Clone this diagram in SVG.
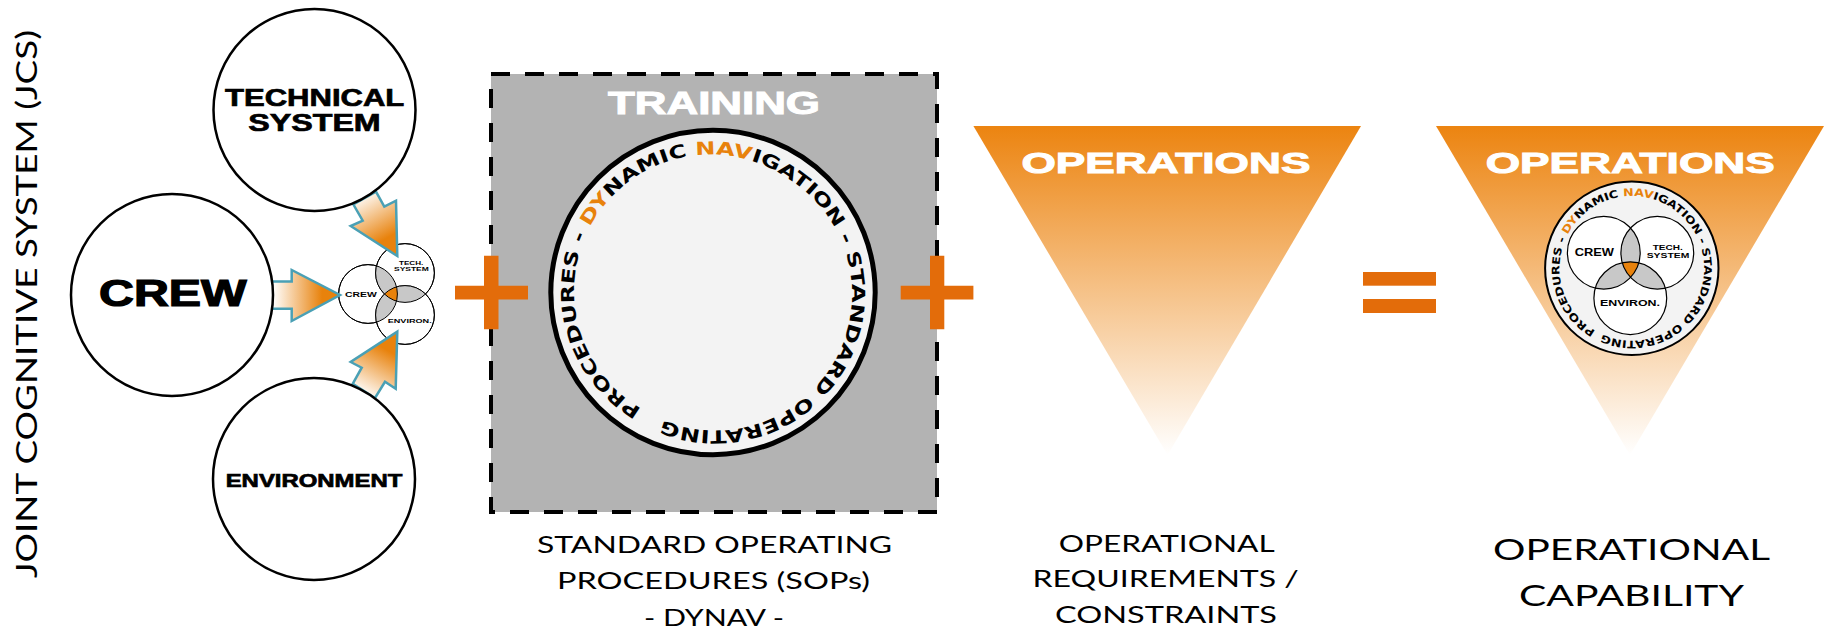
<svg xmlns="http://www.w3.org/2000/svg" width="1835" height="633" viewBox="0 0 1835 633">
<style>
.x{font-family:"Liberation Sans",Arial,sans-serif;font-weight:700;fill:#000;stroke:#000;stroke-width:.7}
.x0{font-family:"Liberation Sans",Arial,sans-serif;font-weight:700;fill:#000}
.w{font-family:"Liberation Sans",Arial,sans-serif;font-weight:700;fill:#fff;stroke:#fff;stroke-width:1}
.h{font-family:"Lato","Open Sans",sans-serif;font-weight:400;fill:#000}
.r{font-family:"DejaVu Sans",sans-serif;font-weight:700;fill:#000}
.o{fill:#e8820c}
.big{fill:#fff;stroke:#000;stroke-width:2.5}
.sm{fill:#fff;stroke:#000;stroke-width:1}
.ln{fill:none;stroke:#000;stroke-width:1}
.ln2{fill:none;stroke:#000;stroke-width:1.2}
.gy{fill:#c8c8c8}
.or{fill:#e36c0a}
.ar{stroke:#4aa0b5;stroke-width:2.5;stroke-linejoin:miter}
</style>
<defs>
<linearGradient id="gc" gradientUnits="userSpaceOnUse" x1="273" y1="295" x2="322" y2="295"><stop offset="0" stop-color="#fff"/><stop offset="1" stop-color="#e8820c"/></linearGradient>
<linearGradient id="gt" gradientUnits="userSpaceOnUse" x1="362" y1="194" x2="387" y2="238"><stop offset="0" stop-color="#fff"/><stop offset="1" stop-color="#e8820c"/></linearGradient>
<linearGradient id="ge" gradientUnits="userSpaceOnUse" x1="362" y1="394" x2="387" y2="350"><stop offset="0" stop-color="#fff"/><stop offset="1" stop-color="#e8820c"/></linearGradient>
<linearGradient id="gv" x1="0" y1="0" x2="0" y2="1"><stop offset="0" stop-color="#ec8410"/><stop offset="1" stop-color="#fff"/></linearGradient>
<clipPath id="s1"><circle cx="368" cy="294" r="29.4"/></clipPath>
<clipPath id="s2"><circle cx="405" cy="273" r="29.4"/></clipPath>
<clipPath id="s3"><circle cx="405" cy="315" r="29.4"/></clipPath>
<clipPath id="m1"><circle cx="1603.8" cy="252.7" r="36.4"/></clipPath>
<clipPath id="m2"><circle cx="1657.3" cy="252.7" r="36.4"/></clipPath>
<clipPath id="m3"><circle cx="1630.3" cy="298.2" r="36.4"/></clipPath>
<path id="ring1" d="M641.6 408.8A136.5 136.5 0 1 1 784.4 176.2A136.5 136.5 0 1 1 641.6 408.8"/>
<path id="ring2" d="M1595.4 330.8A72.3 72.3 0 1 1 1668.2 205.8A72.3 72.3 0 1 1 1595.4 330.8"/>
</defs>
<rect width="1835" height="633" fill="#fff"/>

<text id="jcs-label" class="h" transform="translate(37 578) rotate(-90)" font-size="28" textLength="548" lengthAdjust="spacingAndGlyphs">JOINT COGNITIVE SYSTEM (JCS)</text>

<g id="venn-small">
<circle class="sm" cx="368" cy="294" r="29.4"/><circle class="sm" cx="405" cy="273" r="29.4"/><circle class="sm" cx="405" cy="315" r="29.4"/>
<g clip-path="url(#s1)"><circle class="gy" cx="405" cy="273" r="29.4"/><circle class="gy" cx="405" cy="315" r="29.4"/></g>
<g clip-path="url(#s2)"><circle class="gy" cx="405" cy="315" r="29.4"/></g>
<g clip-path="url(#s1)"><g clip-path="url(#s2)"><circle class="o" cx="405" cy="315" r="29.4"/></g></g>
<circle class="ln" cx="368" cy="294" r="29.4"/><circle class="ln" cx="405" cy="273" r="29.4"/><circle class="ln" cx="405" cy="315" r="29.4"/>
<text class="x0" x="345" y="297" font-size="7.5" textLength="31.7" lengthAdjust="spacingAndGlyphs">CREW</text>
<text class="x0" x="399" y="265.3" font-size="5.5" textLength="24.3" lengthAdjust="spacingAndGlyphs">TECH.</text>
<text class="x0" x="394" y="271.3" font-size="5.5" textLength="34.7" lengthAdjust="spacingAndGlyphs">SYSTEM</text>
<text class="x0" x="387.7" y="323" font-size="6" textLength="44" lengthAdjust="spacingAndGlyphs">ENVIRON.</text>
</g>

<g id="connectors">
<path class="ar" fill="url(#gc)" d="M270 281.6H291.7V270L340 295L291.7 321V308.7H270Z"/>
<path class="ar" fill="url(#gt)" d="M376 191.7L384.3 206.7L396 200.7L397.3 256L350.7 226L362.7 220.7L353.3 204.3Z"/>
<path class="ar" fill="url(#ge)" d="M352.7 383.8L361.7 367.7L350.7 362L397.3 331.7L395.7 388.7L385 381.8L375 398Z"/>
</g>

<g id="node-technical"><circle class="big" cx="314.5" cy="110" r="101"/>
<text class="x" x="225" y="106" font-size="24" textLength="179.3" lengthAdjust="spacingAndGlyphs">TECHNICAL</text>
<text class="x" x="248.3" y="131.3" font-size="24" textLength="132.4" lengthAdjust="spacingAndGlyphs">SYSTEM</text></g>
<g id="node-crew"><circle class="big" cx="172" cy="295" r="101"/>
<text class="x" x="99" y="306" font-size="36" textLength="147.7" lengthAdjust="spacingAndGlyphs" style="stroke-width:1.2">CREW</text></g>
<g id="node-environment"><circle class="big" cx="314" cy="479" r="101"/>
<text class="x" x="225.7" y="487" font-size="18.7" textLength="176.6" lengthAdjust="spacingAndGlyphs">ENVIRONMENT</text></g>

<g id="training">
<rect x="491" y="74" width="446" height="438" fill="#b3b3b3" stroke="#000" stroke-width="4" stroke-dasharray="19 15"/>
<text class="w" x="608" y="114" font-size="30.5" textLength="212" lengthAdjust="spacingAndGlyphs">TRAINING</text>
<circle cx="713" cy="292.5" r="162.2" fill="#f3f3f3" stroke="#000" stroke-width="5"/>
<text class="r" font-size="18"><textPath href="#ring1" textLength="845" lengthAdjust="spacingAndGlyphs">PROCEDURES - <tspan class="o">DY</tspan>NAMIC <tspan class="o">NAV</tspan>IGATION - STANDARD OPERATING</textPath></text>
</g>

<g id="plus-1"><path class="or" d="M484 255.7H498.5V285.7H528V299.4H498.5V329.3H484V299.4H455V285.7H484Z"/></g>
<g id="plus-2"><path class="or" d="M930 255.7H944.3V285.7H973.4V299.4H944.3V329.3H930V299.4H900.7V285.7H930Z"/></g>

<g id="operations-1">
<path fill="url(#gv)" d="M973.4 126H1361L1167.6 455Z"/>
<text class="w" x="1021.4" y="173" font-size="30" textLength="289" lengthAdjust="spacingAndGlyphs">OPERATIONS</text>
</g>

<g id="equals"><rect class="or" x="1363" y="272" width="73" height="13.7"/><rect class="or" x="1363" y="299" width="73" height="14"/></g>

<g id="operations-2">
<path fill="url(#gv)" d="M1436 126H1824L1630 455Z"/>
<text class="w" x="1485.7" y="173" font-size="30" textLength="289" lengthAdjust="spacingAndGlyphs">OPERATIONS</text>
<circle cx="1631.8" cy="268.3" r="86.7" fill="#f3f3f3" stroke="#000" stroke-width="2"/>
<text class="r" font-size="10.5"><textPath href="#ring2" textLength="446" lengthAdjust="spacingAndGlyphs">PROCEDURES - <tspan class="o">DY</tspan>NAMIC <tspan class="o">NAV</tspan>IGATION - STANDARD OPERATING</textPath></text>
<circle cx="1603.8" cy="252.7" r="36.4" fill="#fff"/><circle cx="1657.3" cy="252.7" r="36.4" fill="#fff"/><circle cx="1630.3" cy="298.2" r="36.4" fill="#fff"/>
<g clip-path="url(#m1)"><circle class="gy" cx="1657.3" cy="252.7" r="36.4"/><circle class="gy" cx="1630.3" cy="298.2" r="36.4"/></g>
<g clip-path="url(#m2)"><circle class="gy" cx="1630.3" cy="298.2" r="36.4"/></g>
<g clip-path="url(#m1)"><g clip-path="url(#m2)"><circle class="o" cx="1630.3" cy="298.2" r="36.4"/></g></g>
<circle class="ln2" cx="1603.8" cy="252.7" r="36.4"/><circle class="ln2" cx="1657.3" cy="252.7" r="36.4"/><circle class="ln2" cx="1630.3" cy="298.2" r="36.4"/>
<text class="x0" x="1574.7" y="255.7" font-size="11" textLength="39.3" lengthAdjust="spacingAndGlyphs">CREW</text>
<text class="x0" x="1652.7" y="250" font-size="7.4" textLength="30" lengthAdjust="spacingAndGlyphs">TECH.</text>
<text class="x0" x="1646.7" y="258" font-size="7.4" textLength="42.6" lengthAdjust="spacingAndGlyphs">SYSTEM</text>
<text class="x0" x="1600" y="306" font-size="8.5" textLength="60" lengthAdjust="spacingAndGlyphs">ENVIRON.</text>
</g>

<g id="captions">
<text class="h" x="537" y="553" font-size="23" textLength="355" lengthAdjust="spacingAndGlyphs">STANDARD OPERATING</text>
<text class="h" x="557" y="589" font-size="23" textLength="313" lengthAdjust="spacingAndGlyphs">PROCEDURES (SOPs)</text>
<text class="h" x="644" y="626" font-size="23" textLength="140" lengthAdjust="spacingAndGlyphs">- DYNAV -</text>
<text class="h" x="1058.8" y="552" font-size="23" textLength="215.9" lengthAdjust="spacingAndGlyphs">OPERATIONAL</text>
<text class="h" x="1032.5" y="587" font-size="23" textLength="266.2" lengthAdjust="spacingAndGlyphs">REQUIREMENTS /</text>
<text class="h" x="1055" y="623" font-size="23" textLength="222" lengthAdjust="spacingAndGlyphs">CONSTRAINTS</text>
<text class="h" x="1493" y="560" font-size="28" textLength="277" lengthAdjust="spacingAndGlyphs">OPERATIONAL</text>
<text class="h" x="1519" y="606" font-size="28" textLength="225" lengthAdjust="spacingAndGlyphs">CAPABILITY</text>
</g>
</svg>
